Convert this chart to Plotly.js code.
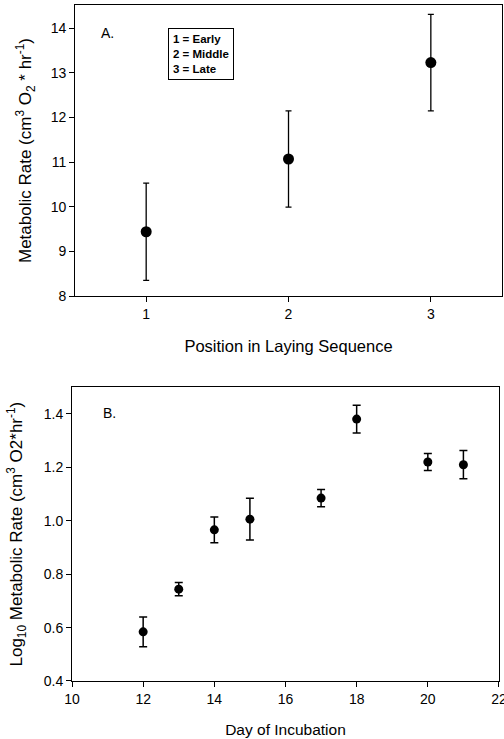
<!DOCTYPE html>
<html>
<head>
<meta charset="utf-8">
<script src="https://cdn.plot.ly/plotly-3.0.1.min.js"></script>
<style>html,body{margin:0;padding:0;background:#fff;}#chart{width:504px;height:739px;}</style>
</head>
<body>
<div id="chart"></div>
<script>
// Panel A data
const positions = [1, 2, 3];
const positionTicks = ['1', '2', '3'];
const metabolicRate = [9.44, 11.07, 13.23];
const metabolicErr = [1.09, 1.08, 1.08];

// Panel B data
const days = [12, 13, 14, 15, 17, 18, 20, 21];
const logRate = [0.584, 0.744, 0.966, 1.006, 1.085, 1.381, 1.220, 1.210];
const logErr = [0.056, 0.025, 0.048, 0.078, 0.032, 0.052, 0.032, 0.053];

const FONT = 'Liberation Sans, Arial, sans-serif';

const traces = [
  {
    x: positions, y: metabolicRate, type: 'scatter', mode: 'markers',
    xaxis: 'x', yaxis: 'y',
    marker: {color: '#000', size: 11},
    error_y: {type: 'data', array: metabolicErr, visible: true, color: '#000', thickness: 1.3, width: 3},
    showlegend: false, hoverinfo: 'skip'
  },
  {
    x: days, y: logRate, type: 'scatter', mode: 'markers',
    xaxis: 'x2', yaxis: 'y2',
    marker: {color: '#000', size: 9},
    error_y: {type: 'data', array: logErr, visible: true, color: '#000', thickness: 1.5, width: 4},
    showlegend: false, hoverinfo: 'skip'
  }
];

const axisCommon = {
  showline: true, mirror: true, linecolor: '#000', linewidth: 1,
  ticks: 'outside', ticklen: 5, tickwidth: 1, tickcolor: '#000',
  showgrid: false, zeroline: false, ticklabeloverflow: 'allow',
  tickfont: {family: FONT, size: 14, color: '#000'}
};

const layout = {
  width: 504, height: 739,
  margin: {l: 72, r: 2, t: 5, b: 58},
  paper_bgcolor: '#fff', plot_bgcolor: '#fff',
  font: {family: FONT, color: '#000'},
  xaxis: Object.assign({}, axisCommon, {
    domain: [0.007, 1], anchor: 'y', range: [0.5, 3.5],
    tickvals: positions, ticktext: positionTicks,
    title: {text: 'Position in Laying Sequence', font: {family: FONT, size: 16.5}, standoff: 19}
  }),
  yaxis: Object.assign({}, axisCommon, {
    domain: [0.5695, 1], anchor: 'x', range: [8, 14.52],
    tickvals: [8, 9, 10, 11, 12, 13, 14],
    title: {text: 'Metabolic Rate (cm<sup>3</sup> O<sub>2</sub> * hr<sup>-1</sup>)', font: {family: FONT, size: 17}, standoff: 14}
  }),
  xaxis2: Object.assign({}, axisCommon, {
    domain: [0, 0.993], anchor: 'y2', range: [10, 22],
    tickvals: [10, 12, 14, 16, 18, 20, 22],
    title: {text: 'Day of Incubation', font: {family: FONT, size: 15.5}, standoff: 18}
  }),
  yaxis2: Object.assign({}, axisCommon, {
    domain: [0, 0.4345], anchor: 'x2', range: [0.4, 1.5],
    tickvals: [0.4, 0.6, 0.8, 1.0, 1.2, 1.4], tickformat: '.1f',
    title: {text: 'Log<sub>10</sub> Metabolic Rate (cm<sup>3</sup> O2*hr<sup>-1</sup>)', font: {family: FONT, size: 17}, standoff: 16}
  }),
  annotations: [
    {xref: 'paper', yref: 'paper', x: 27/430, y: (681-33)/676, text: 'A.', showarrow: false,
     xanchor: 'left', yanchor: 'middle', font: {family: FONT, size: 14, color: '#000'}},
    {xref: 'paper', yref: 'paper', x: 96/430, y: (681-28)/676, showarrow: false,
     text: '1 = Early<br>2 = Middle<br>3 = Late', align: 'left',
     xanchor: 'left', yanchor: 'top', bordercolor: '#000', borderwidth: 1, borderpad: 4,
     font: {family: FONT, size: 11.5, color: '#000', weight: 'bold'}},
    {xref: 'paper', yref: 'paper', x: 29/430, y: (681-413)/676, text: 'B.', showarrow: false,
     xanchor: 'left', yanchor: 'middle', font: {family: FONT, size: 14, color: '#000'}}
  ]
};

Plotly.newPlot('chart', traces, layout, {displayModeBar: false, staticPlot: true});
</script>
</body>
</html>
